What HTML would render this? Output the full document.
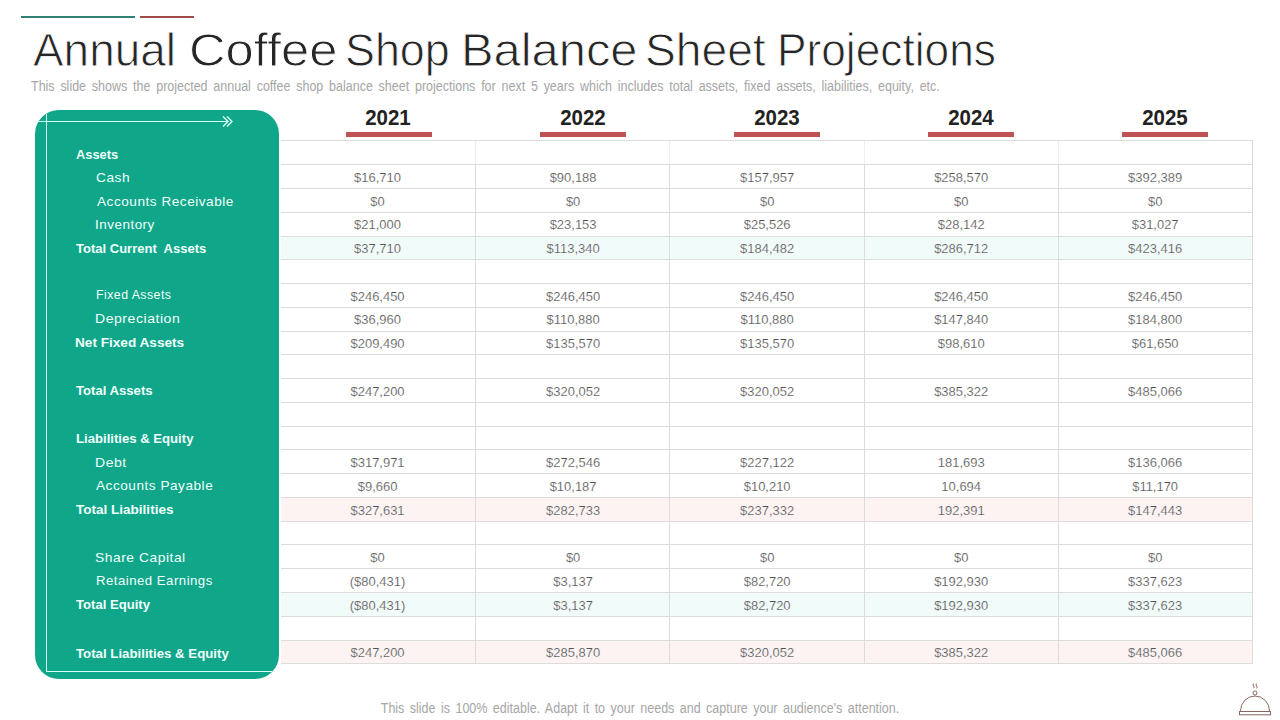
<!DOCTYPE html>
<html><head><meta charset="utf-8">
<style>
html,body{margin:0;padding:0;}
body{width:1280px;height:720px;position:relative;overflow:hidden;background:#fff;font-family:"Liberation Sans",sans-serif;}
.a{position:absolute;}
.title{left:30.5px;top:26px;font-size:47px;color:#262626;white-space:nowrap;letter-spacing:0px;line-height:1;transform:scaleX(1);transform-origin:0 0;-webkit-text-stroke:0.9px #fff;}
.sub{left:31px;top:79px;font-size:14px;color:#a6a6a6;white-space:nowrap;letter-spacing:0px;word-spacing:2.6px;line-height:1;transform:scaleX(0.892);transform-origin:0 0;}
.panel{left:35px;top:110px;width:244px;height:569px;background:#10a68a;border-radius:24px;overflow:hidden;}
.lab{left:0;color:#f0fffb;font-size:13.6px;white-space:nowrap;line-height:1;}
.lab.b{font-weight:bold;letter-spacing:0px;}
.lab.r{letter-spacing:0.5px;font-size:13.2px;-webkit-text-stroke:0px #10a68a;}
.yr{font-size:22px;font-weight:bold;color:#222;text-align:center;line-height:1;}
.bar{height:5px;background:#bd5352;}
.hl{height:1px;background:#dcdcdc;}
.vl{width:1px;background:#dcdcdc;}
.num{font-size:13.5px;color:#505050;-webkit-text-stroke:0.2px #fff;text-align:center;line-height:1;letter-spacing:0px;transform:scaleX(0.96);}
.foot{left:0;width:1280px;text-align:center;font-size:14px;color:#a6a6a6;line-height:1;letter-spacing:0px;word-spacing:2.2px;transform:scaleX(0.893);}
</style></head><body>

<div class="a" style="left:21px;top:16px;width:114px;height:2px;background:#2e8075"></div>
<div class="a" style="left:140px;top:16px;width:54px;height:2px;background:#a04b4a"></div>
<div class="a title" style="left:32.92px;transform:scaleX(0.9768)">Annual</div>
<div class="a title" style="left:189.02px;transform:scaleX(1.0784)">Coffee</div>
<div class="a title" style="left:345.14px;transform:scaleX(0.9544)">Shop</div>
<div class="a title" style="left:460.87px;transform:scaleX(1.0390)">Balance</div>
<div class="a title" style="left:645.23px;transform:scaleX(0.9824)">Sheet</div>
<div class="a title" style="left:777.23px;transform:scaleX(0.9414)">Projections</div>
<div class="a sub">This slide shows the projected annual coffee shop balance sheet projections for next 5 years which includes total assets, fixed assets, liabilities, equity, etc.</div>
<div class="a panel">
<div class="a" style="left:0;top:11px;width:192px;height:1px;background:#d4fff4"></div>
<div class="a" style="left:11px;top:0;width:1px;height:561px;background:#d4fff4"></div>
<div class="a" style="left:11px;top:561px;width:300px;height:1px;background:#d4fff4"></div>
<svg class="a" style="left:180px;top:0px" width="30" height="25" viewBox="0 0 30 25"><path d="M8 6.5 L13 11.5 L8 16.5 M12 6.5 L17 11.5 L12 16.5" fill="none" stroke="#d4fff4" stroke-width="1.4"/></svg>
</div>
<div class="a" style="left:281px;top:236px;width:971px;height:23px;background:#f0fbfa"></div>
<div class="a" style="left:281px;top:497px;width:971px;height:24px;background:#fdf3f3"></div>
<div class="a" style="left:281px;top:592px;width:971px;height:24px;background:#f0fbfa"></div>
<div class="a" style="left:281px;top:640px;width:971px;height:23px;background:#fdf3f3"></div>
<div class="a hl" style="left:281px;top:140px;width:972px"></div>
<div class="a hl" style="left:281px;top:164px;width:972px"></div>
<div class="a hl" style="left:281px;top:188px;width:972px"></div>
<div class="a hl" style="left:281px;top:212px;width:972px"></div>
<div class="a hl" style="left:281px;top:236px;width:972px"></div>
<div class="a hl" style="left:281px;top:259px;width:972px"></div>
<div class="a hl" style="left:281px;top:283px;width:972px"></div>
<div class="a hl" style="left:281px;top:307px;width:972px"></div>
<div class="a hl" style="left:281px;top:331px;width:972px"></div>
<div class="a hl" style="left:281px;top:354px;width:972px"></div>
<div class="a hl" style="left:281px;top:378px;width:972px"></div>
<div class="a hl" style="left:281px;top:402px;width:972px"></div>
<div class="a hl" style="left:281px;top:426px;width:972px"></div>
<div class="a hl" style="left:281px;top:449px;width:972px"></div>
<div class="a hl" style="left:281px;top:473px;width:972px"></div>
<div class="a hl" style="left:281px;top:497px;width:972px"></div>
<div class="a hl" style="left:281px;top:521px;width:972px"></div>
<div class="a hl" style="left:281px;top:544px;width:972px"></div>
<div class="a hl" style="left:281px;top:568px;width:972px"></div>
<div class="a hl" style="left:281px;top:592px;width:972px"></div>
<div class="a hl" style="left:281px;top:616px;width:972px"></div>
<div class="a hl" style="left:281px;top:640px;width:972px"></div>
<div class="a hl" style="left:281px;top:663px;width:972px"></div>
<div class="a vl" style="left:475px;top:141px;height:23px;background:#efefef"></div>
<div class="a vl" style="left:475px;top:164px;height:499px"></div>
<div class="a vl" style="left:669px;top:141px;height:23px;background:#efefef"></div>
<div class="a vl" style="left:669px;top:164px;height:499px"></div>
<div class="a vl" style="left:864px;top:141px;height:23px;background:#efefef"></div>
<div class="a vl" style="left:864px;top:164px;height:499px"></div>
<div class="a vl" style="left:1058px;top:141px;height:23px;background:#efefef"></div>
<div class="a vl" style="left:1058px;top:164px;height:499px"></div>
<div class="a vl" style="left:1252px;top:140px;height:523px"></div>
<div class="a yr" style="left:288.0px;top:107px;width:200px;transform:scaleX(0.93)">2021</div>
<div class="a bar" style="left:346.0px;top:132px;width:86px"></div>
<div class="a yr" style="left:483.0px;top:107px;width:200px;transform:scaleX(0.93)">2022</div>
<div class="a bar" style="left:540.0px;top:132px;width:86px"></div>
<div class="a yr" style="left:677.0px;top:107px;width:200px;transform:scaleX(0.93)">2023</div>
<div class="a bar" style="left:734.0px;top:132px;width:86px"></div>
<div class="a yr" style="left:871.0px;top:107px;width:200px;transform:scaleX(0.93)">2024</div>
<div class="a bar" style="left:928.0px;top:132px;width:86px"></div>
<div class="a yr" style="left:1065.0px;top:107px;width:200px;transform:scaleX(0.93)">2025</div>
<div class="a bar" style="left:1122.0px;top:132px;width:86px"></div>
<div class="a lab b" style="left:75.58px;top:147.59px;transform:scaleX(0.9455);transform-origin:0 0">Assets</div>
<div class="a lab r" style="left:95.50px;top:171.08px;transform:scaleX(1.0381);transform-origin:0 0">Cash</div>
<div class="a num" style="left:280.4px;top:170.8px;width:195.1px">$16,710</div>
<div class="a num" style="left:475.5px;top:170.8px;width:194.2px">$90,188</div>
<div class="a num" style="left:669.7px;top:170.8px;width:194.3px">$157,957</div>
<div class="a num" style="left:864.0px;top:170.8px;width:194.4px">$258,570</div>
<div class="a num" style="left:1058.4px;top:170.8px;width:194.3px">$392,389</div>
<div class="a lab r" style="left:96.53px;top:194.83px;transform:scaleX(1.0319);transform-origin:0 0">Accounts Receivable</div>
<div class="a num" style="left:280.4px;top:194.5px;width:195.1px">$0</div>
<div class="a num" style="left:475.5px;top:194.5px;width:194.2px">$0</div>
<div class="a num" style="left:669.7px;top:194.5px;width:194.3px">$0</div>
<div class="a num" style="left:864.0px;top:194.5px;width:194.4px">$0</div>
<div class="a num" style="left:1058.4px;top:194.5px;width:194.3px">$0</div>
<div class="a lab r" style="left:95.05px;top:217.73px;transform:scaleX(1.0185);transform-origin:0 0">Inventory</div>
<div class="a num" style="left:280.4px;top:218.3px;width:195.1px">$21,000</div>
<div class="a num" style="left:475.5px;top:218.3px;width:194.2px">$23,153</div>
<div class="a num" style="left:669.7px;top:218.3px;width:194.3px">$25,526</div>
<div class="a num" style="left:864.0px;top:218.3px;width:194.4px">$28,142</div>
<div class="a num" style="left:1058.4px;top:218.3px;width:194.3px">$31,027</div>
<div class="a lab b" style="left:75.99px;top:242.24px;transform:scaleX(0.9577);transform-origin:0 0">Total Current&nbsp; Assets</div>
<div class="a num" style="left:280.4px;top:242.1px;width:195.1px">$37,710</div>
<div class="a num" style="left:475.5px;top:242.1px;width:194.2px">$113,340</div>
<div class="a num" style="left:669.7px;top:242.1px;width:194.3px">$184,482</div>
<div class="a num" style="left:864.0px;top:242.1px;width:194.4px">$286,712</div>
<div class="a num" style="left:1058.4px;top:242.1px;width:194.3px">$423,416</div>
<div class="a lab r" style="left:95.66px;top:288.23px;transform:scaleX(0.9342);transform-origin:0 0">Fixed Assets</div>
<div class="a num" style="left:280.4px;top:289.6px;width:195.1px">$246,450</div>
<div class="a num" style="left:475.5px;top:289.6px;width:194.2px">$246,450</div>
<div class="a num" style="left:669.7px;top:289.6px;width:194.3px">$246,450</div>
<div class="a num" style="left:864.0px;top:289.6px;width:194.4px">$246,450</div>
<div class="a num" style="left:1058.4px;top:289.6px;width:194.3px">$246,450</div>
<div class="a lab r" style="left:95.42px;top:312.33px;transform:scaleX(1.0654);transform-origin:0 0">Depreciation</div>
<div class="a num" style="left:280.4px;top:313.4px;width:195.1px">$36,960</div>
<div class="a num" style="left:475.5px;top:313.4px;width:194.2px">$110,880</div>
<div class="a num" style="left:669.7px;top:313.4px;width:194.3px">$110,880</div>
<div class="a num" style="left:864.0px;top:313.4px;width:194.4px">$147,840</div>
<div class="a num" style="left:1058.4px;top:313.4px;width:194.3px">$184,800</div>
<div class="a lab b" style="left:75.47px;top:336.24px;transform:scaleX(1.0010);transform-origin:0 0">Net Fixed Assets</div>
<div class="a num" style="left:280.4px;top:337.2px;width:195.1px">$209,490</div>
<div class="a num" style="left:475.5px;top:337.2px;width:194.2px">$135,570</div>
<div class="a num" style="left:669.7px;top:337.2px;width:194.3px">$135,570</div>
<div class="a num" style="left:864.0px;top:337.2px;width:194.4px">$98,610</div>
<div class="a num" style="left:1058.4px;top:337.2px;width:194.3px">$61,650</div>
<div class="a lab b" style="left:75.97px;top:384.09px;transform:scaleX(0.9656);transform-origin:0 0">Total Assets</div>
<div class="a num" style="left:280.4px;top:384.7px;width:195.1px">$247,200</div>
<div class="a num" style="left:475.5px;top:384.7px;width:194.2px">$320,052</div>
<div class="a num" style="left:669.7px;top:384.7px;width:194.3px">$320,052</div>
<div class="a num" style="left:864.0px;top:384.7px;width:194.4px">$385,322</div>
<div class="a num" style="left:1058.4px;top:384.7px;width:194.3px">$485,066</div>
<div class="a lab b" style="left:75.53px;top:432.24px;transform:scaleX(0.9657);transform-origin:0 0">Liabilities &amp; Equity</div>
<div class="a lab r" style="left:95.33px;top:455.73px;transform:scaleX(1.0630);transform-origin:0 0">Debt</div>
<div class="a num" style="left:280.4px;top:456.0px;width:195.1px">$317,971</div>
<div class="a num" style="left:475.5px;top:456.0px;width:194.2px">$272,546</div>
<div class="a num" style="left:669.7px;top:456.0px;width:194.3px">$227,122</div>
<div class="a num" style="left:864.0px;top:456.0px;width:194.4px">181,693</div>
<div class="a num" style="left:1058.4px;top:456.0px;width:194.3px">$136,066</div>
<div class="a lab r" style="left:96.49px;top:479.43px;transform:scaleX(1.0323);transform-origin:0 0">Accounts Payable</div>
<div class="a num" style="left:280.4px;top:479.8px;width:195.1px">$9,660</div>
<div class="a num" style="left:475.5px;top:479.8px;width:194.2px">$10,187</div>
<div class="a num" style="left:669.7px;top:479.8px;width:194.3px">$10,210</div>
<div class="a num" style="left:864.0px;top:479.8px;width:194.4px">10,694</div>
<div class="a num" style="left:1058.4px;top:479.8px;width:194.3px">$11,170</div>
<div class="a lab b" style="left:76.41px;top:503.49px;transform:scaleX(0.9948);transform-origin:0 0">Total Liabilities</div>
<div class="a num" style="left:280.4px;top:503.6px;width:195.1px">$327,631</div>
<div class="a num" style="left:475.5px;top:503.6px;width:194.2px">$282,733</div>
<div class="a num" style="left:669.7px;top:503.6px;width:194.3px">$237,332</div>
<div class="a num" style="left:864.0px;top:503.6px;width:194.4px">192,391</div>
<div class="a num" style="left:1058.4px;top:503.6px;width:194.3px">$147,443</div>
<div class="a lab r" style="left:94.95px;top:550.73px;transform:scaleX(1.0499);transform-origin:0 0">Share Capital</div>
<div class="a num" style="left:280.4px;top:551.1px;width:195.1px">$0</div>
<div class="a num" style="left:475.5px;top:551.1px;width:194.2px">$0</div>
<div class="a num" style="left:669.7px;top:551.1px;width:194.3px">$0</div>
<div class="a num" style="left:864.0px;top:551.1px;width:194.4px">$0</div>
<div class="a num" style="left:1058.4px;top:551.1px;width:194.3px">$0</div>
<div class="a lab r" style="left:95.53px;top:573.83px;transform:scaleX(0.9980);transform-origin:0 0">Retained Earnings</div>
<div class="a num" style="left:280.4px;top:574.9px;width:195.1px">($80,431)</div>
<div class="a num" style="left:475.5px;top:574.9px;width:194.2px">$3,137</div>
<div class="a num" style="left:669.7px;top:574.9px;width:194.3px">$82,720</div>
<div class="a num" style="left:864.0px;top:574.9px;width:194.4px">$192,930</div>
<div class="a num" style="left:1058.4px;top:574.9px;width:194.3px">$337,623</div>
<div class="a lab b" style="left:75.97px;top:598.49px;transform:scaleX(0.9634);transform-origin:0 0">Total Equity</div>
<div class="a num" style="left:280.4px;top:598.6px;width:195.1px">($80,431)</div>
<div class="a num" style="left:475.5px;top:598.6px;width:194.2px">$3,137</div>
<div class="a num" style="left:669.7px;top:598.6px;width:194.3px">$82,720</div>
<div class="a num" style="left:864.0px;top:598.6px;width:194.4px">$192,930</div>
<div class="a num" style="left:1058.4px;top:598.6px;width:194.3px">$337,623</div>
<div class="a lab b" style="left:75.97px;top:646.59px;transform:scaleX(0.9743);transform-origin:0 0">Total Liabilities &amp; Equity</div>
<div class="a num" style="left:280.4px;top:646.2px;width:195.1px">$247,200</div>
<div class="a num" style="left:475.5px;top:646.2px;width:194.2px">$285,870</div>
<div class="a num" style="left:669.7px;top:646.2px;width:194.3px">$320,052</div>
<div class="a num" style="left:864.0px;top:646.2px;width:194.4px">$385,322</div>
<div class="a num" style="left:1058.4px;top:646.2px;width:194.3px">$485,066</div>
<div class="a foot" style="top:701px">This slide is 100% editable. Adapt it to your needs and capture your audience's attention.</div>
<svg class="a" style="left:1236px;top:680px" width="40" height="40" viewBox="0 0 40 40">
<g fill="none" stroke="#8a6660" stroke-width="1">
<path d="M4.5 31 A14.5 15 0 0 1 33.5 31"/>
<rect x="3.5" y="31.5" width="31" height="3.3"/>
<circle cx="19" cy="13" r="2"/>
<path d="M17.6 3.5 q-1.2 1.2 0 2.4 q1.2 1.2 0 2.4 M20.6 3.5 q-1.2 1.2 0 2.4 q1.2 1.2 0 2.4"/>
</g></svg>
</body></html>
